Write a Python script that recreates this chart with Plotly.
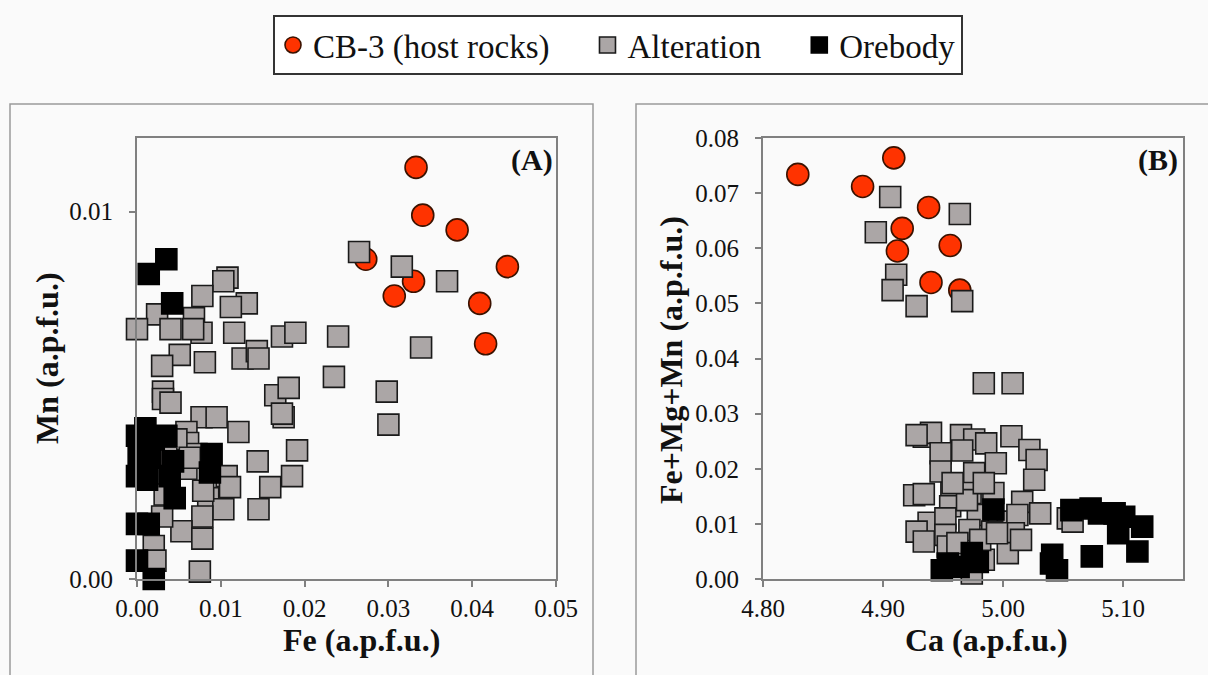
import plotly.graph_objects as go

# ---------------- Panel A data: Fe vs Mn (a.p.f.u.) ----------------
a_host_fe = [0.0333, 0.0341, 0.0382, 0.0273, 0.0442, 0.0330, 0.0307, 0.0409, 0.0416]
a_host_mn = [0.0112, 0.0099, 0.0095, 0.0087, 0.0085, 0.0081, 0.0077, 0.0075, 0.0064]

a_alt_fe = [0.0108, 0.0103, 0.0078, 0.0131, 0.0112, 0.0024, 0.0068, 0.0000, 0.0040,
            0.0077, 0.0067, 0.0116, 0.0173, 0.0189, 0.0051, 0.0030, 0.0081, 0.0126,
            0.0143, 0.0145, 0.0031, 0.0031, 0.0040, 0.0165, 0.0181, 0.0175, 0.0173,
            0.0077, 0.0095, 0.0121, 0.0059, 0.0061, 0.0191, 0.0144, 0.0185, 0.0159,
            0.0145, 0.0107, 0.0111, 0.0085, 0.0103, 0.0078, 0.0053, 0.0078, 0.0030,
            0.0020, 0.0075, 0.0039, 0.0059, 0.0071, 0.0047, 0.0079, 0.0033, 0.0035,
            0.0063, 0.0022,
            0.0265, 0.0316, 0.0370, 0.0240, 0.0339, 0.0235, 0.0298, 0.0300]
a_alt_mn = [0.0082, 0.0081, 0.0077, 0.0075, 0.0074, 0.0072, 0.0071, 0.0068, 0.0068,
            0.0067, 0.0068, 0.0067, 0.0066, 0.0067, 0.0061, 0.0058, 0.0059, 0.0060,
            0.0062, 0.0060, 0.0051, 0.0049, 0.0048, 0.0050, 0.0052, 0.0044, 0.0045,
            0.0044, 0.0044, 0.0040, 0.0040, 0.0037, 0.0035, 0.0032, 0.0028, 0.0025,
            0.0019, 0.0028, 0.0025, 0.0022, 0.0019, 0.0017, 0.0013, 0.0011, 0.0017,
            0.0009, 0.0002, 0.0027, 0.0030, 0.0034, 0.0038, 0.0024, 0.0023, 0.0033,
            0.0033, 0.0005,
            0.0089, 0.0085, 0.0081, 0.0066, 0.0063, 0.0055, 0.0051, 0.0042]

a_ore_fe = [0.0035, 0.0014, 0.0042, 0.0010, 0.0000, 0.0035, 0.0020, 0.0002, 0.0016,
            0.0043, 0.0089, 0.0087, 0.0000, 0.0012, 0.0039, 0.0045, 0.0000, 0.0014,
            0.0000, 0.0020]
a_ore_mn = [0.0087, 0.0083, 0.0075, 0.0041, 0.0039, 0.0039, 0.0038, 0.0033, 0.0033,
            0.0032, 0.0034, 0.0029, 0.0028, 0.0027, 0.0028, 0.0022, 0.0015, 0.0015,
            0.0005, 0.0000]

# ---------------- Panel B data: Ca vs Fe+Mg+Mn (a.p.f.u.) ----------------
b_host_ca = [4.829, 4.883, 4.909, 4.916, 4.912, 4.938, 4.956, 4.940, 4.964]
b_host_sum = [0.0734, 0.0712, 0.0764, 0.0636, 0.0595, 0.0674, 0.0605, 0.0538, 0.0524]

b_alt_ca = [4.906, 4.894, 4.964, 4.911, 4.908, 4.928, 4.966, 4.984, 5.008,
            4.934, 4.940, 4.965, 4.976, 4.986, 5.007, 5.022, 5.028, 4.948, 4.966,
            4.994, 4.948, 4.976, 5.026, 4.926, 4.934, 4.957, 4.973, 4.992, 4.956,
            5.016, 5.031, 5.054, 5.058, 4.938, 4.952, 4.979, 5.004, 5.012, 4.928,
            4.934, 4.952, 4.972, 4.991, 5.009, 4.954, 5.004, 4.984, 4.974, 4.962,
            4.981, 4.970, 4.958, 4.984, 4.995, 5.015, 4.928]
b_alt_sum = [0.0693, 0.0629, 0.0662, 0.0552, 0.0524, 0.0495, 0.0504, 0.0355, 0.0355,
             0.0258, 0.0265, 0.0261, 0.0253, 0.0246, 0.0259, 0.0234, 0.0216, 0.0228, 0.0233,
             0.0210, 0.0195, 0.0192, 0.0180, 0.0152, 0.0154, 0.0156, 0.0156, 0.0156, 0.0132,
             0.0140, 0.0119, 0.0110, 0.0104, 0.0102, 0.0110, 0.0116, 0.0104, 0.0116, 0.0086,
             0.0068, 0.0080, 0.0089, 0.0086, 0.0083, 0.0059, 0.0047, 0.0035, 0.0010, 0.0065,
             0.0071, 0.0143, 0.0174, 0.0174, 0.0083, 0.0071, 0.0261]

b_ore_ca = [4.992, 5.057, 5.073, 5.080, 5.093, 5.101, 5.116, 5.096, 5.112, 5.074,
            5.041, 5.045, 5.040, 4.954, 4.974, 4.979, 4.963, 4.949]
b_ore_sum = [0.0126, 0.0125, 0.0128, 0.0119, 0.0119, 0.0113, 0.0095, 0.0083, 0.0050, 0.0041,
             0.0044, 0.0016, 0.0028, 0.0028, 0.0047, 0.0031, 0.0022, 0.0016]

series_names = ["CB-3 (host rocks)", "Alteration", "Orebody"]

FONT = "Liberation Serif"
RED = "#ff3300"
GRAY = "#aba6a6"
AXC = "#808080"
NB = "\u00a0"
legend_pad = [NB * 4, NB * 4, ""]

fig = go.Figure()

def add(x, y, i, sym, color, size, lc, xa, ya, show):
    fig.add_trace(go.Scatter(
        x=x, y=y, mode="markers", name=series_names[i] + legend_pad[i],
        showlegend=show, legendgroup=series_names[i],
        xaxis=xa, yaxis=ya, cliponaxis=False,
        marker=dict(symbol=sym, size=size, color=color,
                    line=dict(color=lc, width=1.6)),
    ))

add(a_host_fe, a_host_mn, 0, "circle", RED, 22, "#3a1200", "x", "y", True)
add(a_alt_fe, a_alt_mn, 1, "square", GRAY, 21, "#1a1a1a", "x", "y", True)
add(a_ore_fe, a_ore_mn, 2, "square", "#000000", 21, "#000000", "x", "y", True)
add(b_host_ca, b_host_sum, 0, "circle", RED, 22, "#3a1200", "x2", "y2", False)
add(b_alt_ca, b_alt_sum, 1, "square", GRAY, 21, "#1a1a1a", "x2", "y2", False)
add(b_ore_ca, b_ore_sum, 2, "square", "#000000", 21, "#000000", "x2", "y2", False)

W, H = 1208, 675
def px(x):
    return x / W
def py(y):
    return (H - y) / H

ax_common = dict(showline=True, linecolor=AXC, linewidth=2, mirror=True,
                 ticks="outside", ticklen=6, tickwidth=1.5, tickcolor=AXC,
                 showgrid=False, zeroline=False, automargin=False,
                 tickfont=dict(family=FONT, size=25, color="#111111"))

fig.update_layout(
    template="none",
    width=W, height=H,
    margin=dict(l=0, r=0, t=0, b=0, pad=0, autoexpand=False),
    paper_bgcolor="#fafafa", plot_bgcolor="#fafafa",
    font=dict(family=FONT, color="#111111"),
    xaxis=dict(domain=[px(137), px(556)], range=[0, 0.05],
               tickvals=[0, 0.01, 0.02, 0.03, 0.04, 0.05], tickformat=".2f",
               anchor="y", ticklabelstandoff=0, **ax_common),
    yaxis=dict(domain=[py(579), py(138)], range=[0, 0.012],
               tickvals=[0, 0.01], tickformat=".2f",
               anchor="x", ticklabelstandoff=11, **ax_common),
    xaxis2=dict(domain=[px(763), px(1183)], range=[4.80, 5.15],
                tickvals=[4.8, 4.9, 5.0, 5.1], tickformat=".2f",
                anchor="y2", ticklabelstandoff=0, **ax_common),
    yaxis2=dict(domain=[py(579), py(138)], range=[0, 0.08],
                tickvals=[0, 0.01, 0.02, 0.03, 0.04, 0.05, 0.06, 0.07, 0.08],
                tickformat=".2f", anchor="x2", ticklabelstandoff=11, **ax_common),
    legend=dict(orientation="h", x=px(618), xanchor="center", y=py(15), yanchor="top",
                bgcolor="#ffffff", bordercolor="#333333", borderwidth=2,
                font=dict(family=FONT, size=33, color="#111111"),
                itemsizing="trace"),
    showlegend=True,
)

# panel frames
fig.add_shape(type="rect", xref="paper", yref="paper",
              x0=px(10), x1=px(593), y0=-0.02, y1=py(104),
              line=dict(color="#9a9a9a", width=1.5), layer="below")
fig.add_shape(type="rect", xref="paper", yref="paper",
              x0=px(636), x1=1.02, y0=-0.02, y1=py(104),
              line=dict(color="#9a9a9a", width=1.5), layer="below")

ann_font = dict(family=FONT, size=32, color="#111111")
def title(text, x, y, angle=0):
    fig.add_annotation(text=text, xref="paper", yref="paper", x=px(x), y=py(y),
                       xanchor="center", yanchor="middle", showarrow=False,
                       textangle=angle, font=ann_font, borderpad=0)

title("<b>Fe (a.p.f.u.)</b>", 361, 640)
title("<b>Ca (a.p.f.u.)</b>", 986, 640)
title("<b>Mn (a.p.f.u.)</b>", 47, 358, -90)
title("<b>Fe+Mg+Mn (a.p.f.u.)</b>", 671, 360, -90)

fig.add_annotation(text="<b>(A)</b>", xref="paper", yref="paper",
                   x=px(555), y=py(141), xanchor="right", yanchor="top",
                   showarrow=False, font=dict(family=FONT, size=30, color="#111111"))
fig.add_annotation(text="<b>(B)</b>", xref="paper", yref="paper",
                   x=px(1180), y=py(141), xanchor="right", yanchor="top",
                   showarrow=False, font=dict(family=FONT, size=30, color="#111111"))

fig.write_html("out.html", config={"displayModeBar": False},
               post_script="document.body.style.margin='0';")
